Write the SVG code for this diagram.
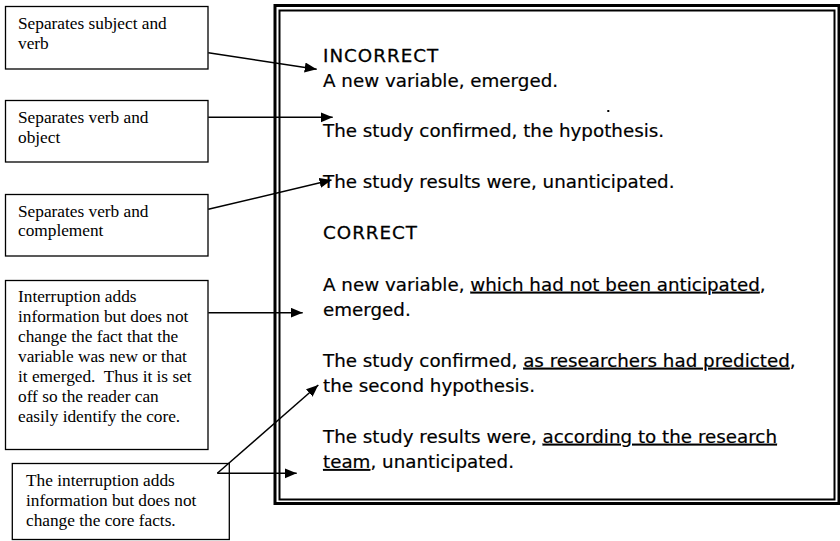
<svg xmlns="http://www.w3.org/2000/svg" width="840" height="541" viewBox="0 0 840 541">
  <style>
    .note { fill: #fff; stroke: #000; stroke-width: 1.3; }
    .nt { font-family: "Liberation Serif", "Times New Roman", serif; font-size: 17.3px; fill: #000; white-space: pre; }
    .ex { font-family: "DejaVu Sans", Verdana, sans-serif; font-size: 18.3px; fill: #000; stroke: #000; stroke-width: 0.2; }
    .hd { letter-spacing: 1px; stroke-width: 0.3; }
    .u { text-decoration: underline; }
    .arrow { stroke: #000; stroke-width: 1.5; fill: none; marker-end: url(#head); }
  </style>
  <defs>
    <marker id="head" markerUnits="userSpaceOnUse" markerWidth="13" markerHeight="11" refX="12" refY="5" orient="auto">
      <path d="M0,0 L12,5 L0,10 Z" fill="#000"/>
    </marker>
  </defs>

  <rect width="840" height="541" fill="#fff"/>

  <!-- example panel with double border -->
  <g id="examples">
    <rect x="275" y="5.5" width="564" height="498" fill="#fff" stroke="#000" stroke-width="3"/>
    <rect x="279.5" y="10.5" width="555" height="489" fill="none" stroke="#000" stroke-width="2"/>
    <text class="ex hd" x="323" y="61.7">INCORRECT</text>
    <text class="ex" x="323" y="87.3">A new variable, emerged.</text>
    <rect x="607.3" y="110" width="2" height="2" fill="#000"/>
    <text class="ex" x="323" y="137.3">The study confirmed, the hypothesis.</text>
    <text class="ex" x="323" y="188.3">The study results were, unanticipated.</text>
    <text class="ex hd" x="323" y="239">CORRECT</text>
    <text class="ex" x="323" y="290.7">A new variable, <tspan class="u">which had not been anticipated</tspan>,</text>
    <text class="ex" x="323" y="315.7">emerged.</text>
    <text class="ex" x="323" y="366.7">The study confirmed, <tspan class="u">as researchers had predicted</tspan>,</text>
    <text class="ex" x="323" y="391.7">the second hypothesis.</text>
    <text class="ex" x="323" y="442.7">The study results were, <tspan class="u">according to the research</tspan></text>
    <text class="ex" x="323" y="468"><tspan class="u">team</tspan>, unanticipated.</text>
  </g>

  <g id="note-subject-verb">
    <rect class="note" x="5.5" y="6.5" width="202.5" height="62.5"/>
    <text class="nt" x="18" y="29.3">Separates subject and</text>
    <text class="nt" x="18" y="48.8">verb</text>
  </g>

  <g id="note-verb-object">
    <rect class="note" x="5.5" y="100.5" width="202.5" height="61.5"/>
    <text class="nt" x="18" y="123.3">Separates verb and</text>
    <text class="nt" x="18" y="142.7">object</text>
  </g>

  <g id="note-verb-complement">
    <rect class="note" x="5.5" y="194.5" width="202.5" height="61.5"/>
    <text class="nt" x="18" y="216.7">Separates verb and</text>
    <text class="nt" x="18" y="236.2">complement</text>
  </g>

  <g id="note-interruption">
    <rect class="note" x="5.5" y="280.5" width="202.5" height="169"/>
    <text class="nt" x="18" y="302.3">Interruption adds</text>
    <text class="nt" x="18" y="322.2">information but does not</text>
    <text class="nt" x="18" y="342.1">change the fact that the</text>
    <text class="nt" x="18" y="362">variable was new or that</text>
    <text class="nt" x="18" y="381.9">it emerged.  Thus it is set</text>
    <text class="nt" x="18" y="401.8">off so the reader can</text>
    <text class="nt" x="18" y="421.7">easily identify the core.</text>
  </g>

  <g id="note-core-facts">
    <rect class="note" x="12.3" y="463.5" width="217" height="76"/>
    <text class="nt" x="26" y="486.3">The interruption adds</text>
    <text class="nt" x="26" y="506">information but does not</text>
    <text class="nt" x="26" y="525.7">change the core facts.</text>
  </g>

  <g id="connectors">
    <line class="arrow" x1="208.3" y1="52.7" x2="316.7" y2="69.3"/>
    <line class="arrow" x1="208.3" y1="117.3" x2="332.7" y2="117.3" stroke-width="2"/>
    <line class="arrow" x1="208.3" y1="209.3" x2="331.5" y2="180"/>
    <line class="arrow" x1="208.3" y1="312.7" x2="302.7" y2="312.7"/>
    <line class="arrow" x1="217.3" y1="473.3" x2="318.3" y2="385"/>
    <line class="arrow" x1="217.3" y1="473.3" x2="296.7" y2="473.3"/>
  </g>
</svg>
